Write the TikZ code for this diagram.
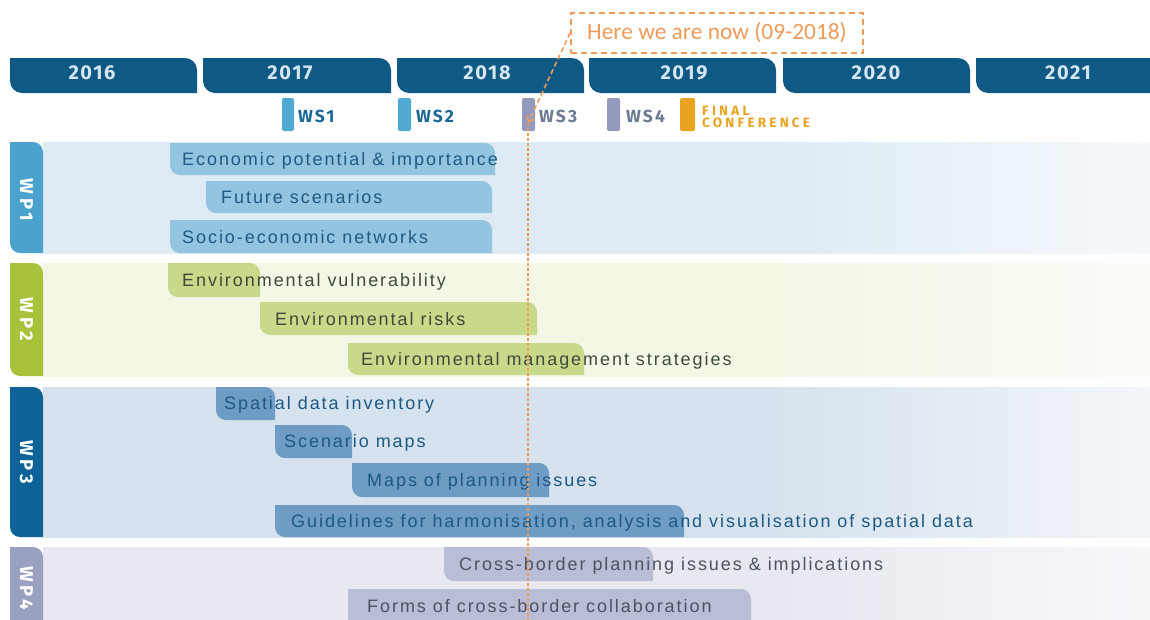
\documentclass[tikz,border=0pt]{standalone}
\usepackage{fontspec}
\setmainfont{Liberation Sans}
\newfontfamily\taskfont[LetterSpace=10.8]{Liberation Sans}
\newfontfamily\headfont[LetterSpace=8]{Fira Sans}
\newfontfamily\wpfont[LetterSpace=20]{Fira Sans}
\newfontfamily\wsfont[LetterSpace=12]{Fira Sans}
\newfontfamily\finalfont[LetterSpace=24]{Fira Sans}
\newfontfamily\notefont{Carlito}
\usetikzlibrary{arrows.meta}
\definecolor{yearblue}{RGB}{14,90,133}
\definecolor{yeartext}{RGB}{214,230,240}
\definecolor{tabA}{RGB}{75,163,205}   \definecolor{bandA}{RGB}{222,235,244}
\definecolor{barA}{RGB}{147,196,224}  \definecolor{txtA}{RGB}{31,91,133}
\definecolor{tabB}{RGB}{169,194,60}   \definecolor{bandB}{RGB}{244,246,230}
\definecolor{barB}{RGB}{200,217,138}  \definecolor{txtB}{RGB}{62,74,62}
\definecolor{tabC}{RGB}{13,99,151}    \definecolor{bandC}{RGB}{214,226,237}
\definecolor{barC}{RGB}{110,156,196}  \definecolor{txtC}{RGB}{27,90,133}
\definecolor{tabD}{RGB}{154,160,192}  \definecolor{bandD}{RGB}{231,232,240}
\definecolor{barD}{RGB}{185,189,213}  \definecolor{txtD}{RGB}{76,83,99}
\definecolor{wsblue}{RGB}{80,169,209} \definecolor{wsbluetxt}{RGB}{27,104,151}
\definecolor{wsgrey}{RGB}{148,154,190}\definecolor{wsgreytxt}{RGB}{108,122,146}
\definecolor{finalor}{RGB}{233,163,33}
\definecolor{nowor}{RGB}{238,155,90}
% bands fade out towards the right
\foreach \k in {A,B,C,D}{
  \pgfdeclarehorizontalshading{fade\k}{100bp}{color(0bp)=(band\k); color(25bp)=(band\k);
    color(58bp)=(band\k); color(75bp)=(band\k!30!white); color(100bp)=(band\k!30!white)}
}
\tikzset{
  yeartxt/.style={anchor=base,inner sep=0pt,text=yeartext,font=\headfont\bfseries\fontsize{20}{24}\selectfont},
  wplabel/.style={rotate=-90,inner sep=0pt,text=white,font=\wpfont\bfseries\fontsize{18.5}{20}\selectfont},
  wsmark/.style={rounded corners=2pt},
  wstxt/.style={anchor=base west,inner sep=0pt,font=\wsfont\bfseries\fontsize{17.5}{19}\selectfont},
  finaltxt/.style={anchor=base west,inner sep=0pt,text=finalor,font=\finalfont\bfseries\fontsize{13.5}{15}\selectfont},
  task/.style={anchor=base west,inner sep=0pt,font=\taskfont\fontsize{18}{21}\selectfont},
  nowbox/.style={draw=nowor,line width=1.8pt,dash pattern=on 6pt off 4pt,text=nowor,
    font=\notefont\fontsize{23.4}{26}\selectfont,minimum width=292pt,minimum height=40pt,inner sep=0pt},
  nowline/.style={draw=nowor,line width=1.6pt,dash pattern=on 5pt off 3pt}
}
% tab with rounded top right and bottom left corners: colour, x1, y1, x2, y2, radius
\newcommand\tabfill[6]{\fill[#1] (#2,#3) -- ({#4-#6},#3) arc[start angle=-90,end angle=0,radius=#6]
  -- (#4,#5) -- ({#2+#6},#5) arc[start angle=90,end angle=180,radius=#6] -- cycle;}

\begin{document}
\begin{tikzpicture}[x=1pt,y=-1pt]
\clip (0,0) rectangle (1150,619);
\fill[white] (0,0) rectangle (1150,619);
% work package bands
\foreach \k/\ya/\yb in {A/142/253, B/263/376, C/387/537, D/547/630}{
  \shade[shading=fade\k] (43,\ya) rectangle (1150,\yb);
  \tabfill{tab\k}{10}{\ya}{43}{\yb}{10}
}
\node[wplabel] (wp1) at (26.5,200) {WP1};
\node[wplabel] (wp2) at (26.5,319.5) {WP2};
\node[wplabel] (wp3) at (26.5,462) {WP3};
\node[wplabel] (wp4) at (26.5,588) {WP4};
% years
\foreach \yr/\xa/\xb/\tx in {2016/10/197/92, 2017/203/391/290, 2018/397/584/487,
    2019/589/776/684, 2020/783/970/876, 2021/976/1170/1068}{
  \tabfill{yearblue}{\xa}{58}{\xb}{93}{12}
  \node[yeartxt] (y\yr) at (\tx,79.5) {\yr};
}
% workshops
\fill[wsmark,wsblue] (282,98) rectangle (294,131);
\fill[wsmark,wsblue] (398,98) rectangle (411,131);
\fill[wsmark,wsgrey] (522,98) rectangle (535,131);
\fill[wsmark,wsgrey] (607,98) rectangle (620,131);
\fill[wsmark,finalor] (680,98) rectangle (695,131);
\node[wstxt,text=wsbluetxt] (ws1) at (298,122) {WS1};
\node[wstxt,text=wsbluetxt] (ws2) at (416,122) {WS2};
\node[wstxt,text=wsgreytxt] (ws3) at (539,122) {WS3};
\node[wstxt,text=wsgreytxt] (ws4) at (626,122) {WS4};
\node[finaltxt] (final) at (702,115.5) {FINAL};
\node[finaltxt] (conf) at (702,127.5) {CONFERENCE};
% WP1 tasks
\tabfill{barA}{170}{143}{495}{175}{10}
\tabfill{barA}{206}{181}{492}{213}{10}
\tabfill{barA}{170}{220}{492}{253}{10}
\node[task,text=txtA] (econ) at (182,165.5) {Economic potential \& importance};
\node[task,text=txtA] (future) at (221,203.5) {Future scenarios};
\node[task,text=txtA] (socio) at (182,243) {Socio-economic networks};
% WP2 tasks
\tabfill{barB}{168}{263}{260}{297}{10}
\tabfill{barB}{260}{302}{537}{335}{10}
\tabfill{barB}{348}{343}{584}{375}{10}
\node[task,text=txtB] (vuln) at (182,286) {Environmental vulnerability};
\node[task,text=txtB] (risks) at (275,325) {Environmental risks};
\node[task,text=txtB] (mgmt) at (361,365) {Environmental management strategies};
% WP3 tasks
\tabfill{barC}{216}{387}{275}{420}{10}
\tabfill{barC}{275}{425}{352}{458}{10}
\tabfill{barC}{352}{463}{549}{497}{10}
\tabfill{barC}{275}{505}{684}{537}{10}
\node[task,text=txtC] (spatial) at (224,409.5) {Spatial data inventory};
\node[task,text=txtC] (scenmaps) at (284,447.5) {Scenario maps};
\node[task,text=txtC] (planmaps) at (367,486) {Maps of planning issues};
\node[task,text=txtC] (guide) at (291,527) {Guidelines for harmonisation, analysis and visualisation of spatial data};
% WP4 tasks
\tabfill{barD}{444}{547}{653}{581}{10}
\tabfill{barD}{348}{589}{751}{630}{10}
\node[task,text=txtD] (cross) at (459,570) {Cross-border planning issues \& implications};
\node[task,text=txtD] (forms) at (367,612) {Forms of cross-border collaboration};
% current date marker
\node[nowbox] (now) at (717,33) {Here we are now (09-2018)};
\coordinate (tip) at (528,123);
\coordinate (foot) at (528,625);
\draw[nowline,-{Straight Barb[length=5pt,width=8pt]}] (now.west) -- (tip);
\draw[nowline,line width=1.2pt,dash pattern=on 3pt off 2pt] (tip) -- (foot);
\end{tikzpicture}
\end{document}
